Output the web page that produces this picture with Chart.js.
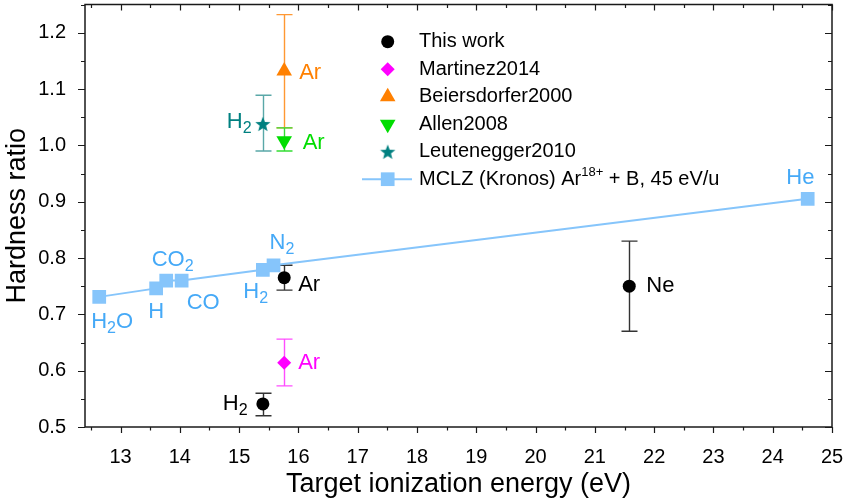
<!DOCTYPE html>
<html>
<head>
<meta charset="utf-8">
<style>
  html, body { margin: 0; padding: 0; background: #fff; }
  #wrap { width: 846px; height: 499px; }
</style>
</head>
<body>
<div id="wrap"><canvas id="chart" width="846" height="499"></canvas></div>
<script src="https://cdn.jsdelivr.net/npm/chart.js@4.4.0/dist/chart.umd.min.js"></script>
<script>
  const family = "'Liberation Sans', Arial, Helvetica, sans-serif";

  // axis ticks
  const xTicks = [13, 14, 15, 16, 17, 18, 19, 20, 21, 22, 23, 24, 25];
  const xMinor = [12.5, 13.5, 14.5, 15.5, 16.5, 17.5, 18.5, 19.5, 20.5, 21.5, 22.5, 23.5, 24.5];
  const yTicks = [0.5, 0.6, 0.7, 0.8, 0.9, 1.0, 1.1, 1.2];
  const yMinor = [0.55, 0.65, 0.75, 0.85, 0.95, 1.05, 1.15, 1.25];

  // This work
  const workX = [15.40, 15.76, 21.58];
  const workY = [0.541, 0.765, 0.750];
  const workLo = [0.520, 0.743, 0.670];
  const workHi = [0.560, 0.787, 0.830];
  const workTags = ['H_2', 'Ar', 'Ne'];

  // Martinez2014
  const martX = [15.76];
  const martY = [0.614];
  const martLo = [0.573];
  const martHi = [0.656];
  const martTags = ['Ar'];

  // Beiersdorfer2000
  const beiX = [15.76];
  const beiY = [1.132];
  const beiLo = [1.031];
  const beiHi = [1.232];
  const beiTags = ['Ar'];

  // Allen2008
  const allX = [15.76];
  const allY = [1.008];
  const allLo = [0.990];
  const allHi = [1.031];
  const allTags = ['Ar'];

  // Leutenegger2010
  const leuX = [15.40];
  const leuY = [1.038];
  const leuLo = [0.990];
  const leuHi = [1.089];
  const leuTags = ['H_2'];

  // MCLZ (Kronos)
  const mclzX = [12.64, 13.60, 13.77, 14.03, 15.40, 15.58, 24.59];
  const mclzY = [0.731, 0.746, 0.760, 0.760, 0.779, 0.787, 0.905];
  const mclzTags = ['H_2O', 'H', 'CO_2', 'CO', 'H_2', 'N_2', 'He'];

  const pts = (xs, ys) => xs.map((x, i) => ({ x: x, y: ys[i] }));

  // star marker as an image
  function starImage(color, r) {
    const c = document.createElement('canvas');
    const s = Math.ceil(r * 2 + 2);
    c.width = s; c.height = s;
    const g = c.getContext('2d');
    starPath(g, s / 2, s / 2, r);
    g.fillStyle = color;
    g.fill();
    return c;
  }
  function starPath(g, x, y, r) {
    g.beginPath();
    for (let k = 0; k < 10; k++) {
      const rr = k % 2 ? r * 0.42 : r;
      const a = -Math.PI / 2 + k * Math.PI / 5;
      const px = x + rr * Math.cos(a), py = y + rr * Math.sin(a) + r * 0.1;
      k ? g.lineTo(px, py) : g.moveTo(px, py);
    }
    g.closePath();
  }
  const starImg = starImage('#008080', 8);

  function drawMarker(g, style, x, y, r, color) {
    g.save();
    g.fillStyle = color;
    if (style === 'star') {
      g.drawImage(starImg, x - starImg.width / 2, y - starImg.height / 2);
      g.restore();
      return;
    }
    g.beginPath();
    if (style === 'circle') {
      g.arc(x, y, r, 0, Math.PI * 2);
    } else if (style === 'rectRot') {
      g.moveTo(x - r, y); g.lineTo(x, y - r); g.lineTo(x + r, y); g.lineTo(x, y + r);
    } else if (style === 'triangle') {
      g.moveTo(x, y - r); g.lineTo(x + r * 0.866, y + r / 2); g.lineTo(x - r * 0.866, y + r / 2);
    } else if (style === 'triangleDown') {
      g.moveTo(x, y + r); g.lineTo(x + r * 0.866, y - r / 2); g.lineTo(x - r * 0.866, y - r / 2);
    } else if (style === 'rect') {
      const s = r * Math.SQRT1_2;
      g.rect(x - s, y - s, 2 * s, 2 * s);
    }
    g.closePath();
    g.fill();
    g.restore();
  }

  // text with subscripts written as H_2O
  function drawTag(g, text, x, y, size, color) {
    g.save();
    g.fillStyle = color;
    g.textBaseline = 'middle';
    g.textAlign = 'left';
    let cx = x;
    text.split(/_(\d+)/).forEach((p, i) => {
      if (!p) return;
      const sub = i % 2 === 1;
      g.font = (sub ? size * 0.73 : size) + 'px ' + family;
      g.fillText(p, cx, sub ? y + size * 0.31 : y);
      cx += g.measureText(p).width;
    });
    g.restore();
  }

  const noPad = s => { s.paddingTop = 0; s.paddingBottom = 0; s.paddingLeft = 0; s.paddingRight = 0; };

  const decor = {
    id: 'decor',
    beforeDatasetsDraw(chart) {
      const g = chart.ctx, xs = chart.scales.x, ys = chart.scales.y;
      chart.data.datasets.forEach(ds => {
        if (!ds.lo) return;
        g.save();
        g.strokeStyle = ds.errColor;
        g.lineWidth = 1.4;
        ds.data.forEach((p, i) => {
          const px = Math.round(xs.getPixelForValue(p.x)) + 0.5;
          const top = ys.getPixelForValue(ds.hi[i]);
          const bot = ys.getPixelForValue(ds.lo[i]);
          g.beginPath();
          g.moveTo(px, top); g.lineTo(px, bot);
          g.moveTo(px - 8, top); g.lineTo(px + 8, top);
          g.moveTo(px - 8, bot); g.lineTo(px + 8, bot);
          g.stroke();
        });
        g.restore();
      });
    },
    afterDatasetsDraw(chart, args, opts) {
      const g = chart.ctx, a = chart.chartArea;
      const xs = chart.scales.x, ys = chart.scales.y;

      // frame and ticks
      g.save();
      g.strokeStyle = '#1a1a1a';
      g.lineWidth = 1.5;
      g.strokeRect(a.left, a.top, a.right - a.left, a.bottom - a.top);
      g.lineWidth = 1.2;
      g.beginPath();
      const xt = (v, len) => {
        const px = Math.round(xs.getPixelForValue(v)) + 0.5;
        g.moveTo(px, a.bottom); g.lineTo(px, a.bottom + len);
        g.moveTo(px, a.top); g.lineTo(px, a.top + len);
      };
      const yt = (v, len) => {
        const py = Math.round(ys.getPixelForValue(v)) + 0.5;
        g.moveTo(a.left, py); g.lineTo(a.left - len, py);
        g.moveTo(a.right, py); g.lineTo(a.right - len, py);
      };
      xTicks.forEach(v => xt(v, 6));
      xMinor.forEach(v => xt(v, 3.5));
      yTicks.forEach(v => yt(v, 7));
      yMinor.forEach(v => yt(v, 4));
      g.stroke();
      g.restore();

      // point labels
      chart.data.datasets.forEach((ds, di) => {
        const offs = opts.tagOffsets[di];
        ds.data.forEach((p, i) => {
          const px = xs.getPixelForValue(p.x), py = ys.getPixelForValue(p.y);
          drawTag(g, ds.tags[i], px + offs[i][0], py + offs[i][1], 22, ds.tagColor);
        });
      });

      // legend
      const lx = 387.7, tx = 419;
      chart.data.datasets.forEach((ds, di) => {
        const ly = 41.7 + di * 27.5;
        if (ds.showLine) {
          g.save();
          g.strokeStyle = ds.borderColor;
          g.lineWidth = 2;
          g.beginPath();
          g.moveTo(362, ly); g.lineTo(412, ly);
          g.stroke();
          g.restore();
        }
        const style = ds.pointStyle === starImg ? 'star'
          : (ds.pointRotation === 180 ? 'triangleDown' : ds.pointStyle);
        drawMarker(g, style, lx, ly, ds.pointRadius, ds.backgroundColor);
        g.save();
        g.fillStyle = '#000';
        g.textBaseline = 'middle';
        const parts = ds.label.split(/\^(\S+)/);
        let cx = tx;
        parts.forEach((p, i) => {
          if (!p) return;
          const sup = i % 2 === 1;
          g.font = (sup ? 13 : 20) + 'px ' + family;
          g.fillText(p, cx, sup ? ly - 7 : ly);
          cx += g.measureText(p).width;
        });
        g.restore();
      });
    }
  };

  new Chart(document.getElementById('chart'), {
    type: 'scatter',
    data: {
      datasets: [
        {
          label: 'This work', data: pts(workX, workY), lo: workLo, hi: workHi, tags: workTags,
          pointStyle: 'circle', pointRadius: 6.5, backgroundColor: '#000', borderWidth: 0,
          errColor: '#333333', tagColor: '#000'
        },
        {
          label: 'Martinez2014', data: pts(martX, martY), lo: martLo, hi: martHi, tags: martTags,
          pointStyle: 'rectRot', pointRadius: 7, backgroundColor: '#ff00ff', borderWidth: 0,
          errColor: '#ff4dff', tagColor: '#ff00ff'
        },
        {
          label: 'Beiersdorfer2000', data: pts(beiX, beiY), lo: beiLo, hi: beiHi, tags: beiTags,
          pointStyle: 'triangle', pointRadius: 9, backgroundColor: '#ff8000', borderWidth: 0,
          errColor: '#ff9833', tagColor: '#ff8000'
        },
        {
          label: 'Allen2008', data: pts(allX, allY), lo: allLo, hi: allHi, tags: allTags,
          pointStyle: 'triangle', pointRotation: 180, pointRadius: 9, backgroundColor: '#00dd00', borderWidth: 0,
          errColor: '#33dd33', tagColor: '#00dd00'
        },
        {
          label: 'Leutenegger2010', data: pts(leuX, leuY), lo: leuLo, hi: leuHi, tags: leuTags,
          pointStyle: starImg, pointRadius: 8, backgroundColor: '#008080', borderWidth: 0,
          errColor: '#5aa8a8', tagColor: '#008080'
        },
        {
          label: 'MCLZ (Kronos) Ar^18+ + B, 45 eV/u', data: pts(mclzX, mclzY), tags: mclzTags,
          showLine: true, borderColor: '#86c5fb', borderWidth: 2,
          pointStyle: 'rect', pointRadius: 9.7, backgroundColor: '#86c5fb', pointBorderWidth: 0,
          tagColor: '#45a9f7'
        }
      ]
    },
    options: {
      responsive: false,
      animation: false,
      events: [],
      devicePixelRatio: 1,
      layout: { autoPadding: false, padding: { top: 4.5, right: 14, left: 0, bottom: 0 } },
      plugins: {
        legend: { display: false },
        tooltip: { enabled: false },
        decor: {
          tagOffsets: [
            [[-40, 0], [14, 7.5], [17, 0]],
            [[14, 0]],
            [[15, 2]],
            [[18.5, 2.5]],
            [[-36, -2]],
            [[-8, 25], [-8, 24], [-14.5, -21], [5, 22], [-19.5, 22], [-4, -22.6], [-21.4, -21]]
          ]
        }
      },
      scales: {
        x: {
          type: 'linear', min: 12.4, max: 25,
          afterBuildTicks: s => { s.ticks = xTicks.map(v => ({ value: v })); },
          afterFit: s => { s.height = 72; noPad(s); },
          grid: { display: false },
          border: { display: false },
          ticks: { font: { family: family, size: 20 }, color: '#000', padding: 10, maxRotation: 0, autoSkip: false },
          title: {
            display: true, text: 'Target ionization energy (eV)', color: '#000',
            font: { family: family, size: 27, lineHeight: 1 }, padding: { top: 0, bottom: 1 }
          }
        },
        y: {
          type: 'linear', min: 0.5, max: 1.25,
          afterBuildTicks: s => { s.ticks = yTicks.map(v => ({ value: v })); },
          afterFit: s => { s.width = 85; noPad(s); },
          grid: { display: false },
          border: { display: false },
          ticks: { font: { family: family, size: 20 }, color: '#000', padding: 11, autoSkip: false,
                   callback: v => v.toFixed(1) },
          title: {
            display: true, text: 'Hardness ratio', color: '#000',
            font: { family: family, size: 27, lineHeight: 1 }, padding: { top: 4.5, bottom: 0 }
          }
        }
      }
    },
    plugins: [decor]
  });
</script>
</body>
</html>
